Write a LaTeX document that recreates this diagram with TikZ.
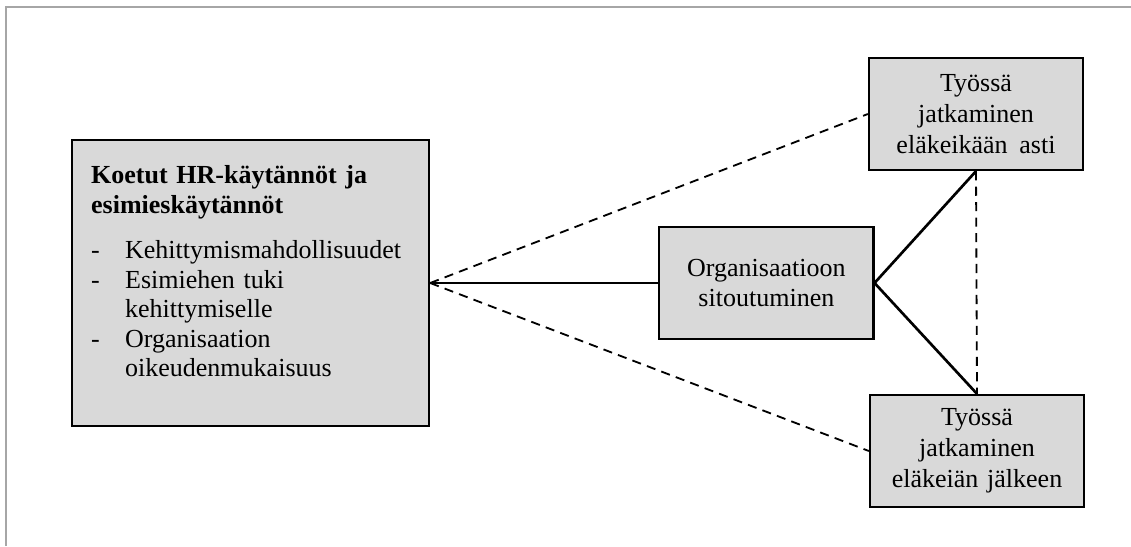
\documentclass[tikz,border=0pt]{standalone}
\usepackage{fontspec}
\setmainfont{Liberation Serif}
\usepackage{tikz}
\usetikzlibrary{positioning}
\definecolor{boxgray}{HTML}{D9D9D9}
\definecolor{framegray}{HTML}{A6A6A6}
\newcommand{\viiva}[1]{\par\hangindent=0.85cm\hangafter=1\noindent\makebox[0.85cm][l]{-}#1}
\tikzset{
	every node/.style={
		font=\fontsize{18.5pt}{22pt}\selectfont
	},
	laatikko/.style={
		shape=rectangle,
		fill=boxgray,
		draw,
		line width=1.6pt,
		minimum width=5.35cm,
		minimum height=2.8cm,
		text width=5cm,
		text centered,
		inner sep=0pt
	},
	hrlaatikko/.style={
		laatikko,
		minimum width=8.925cm,
		minimum height=7.15cm,
		text width=8.5cm
	},
	hrteksti/.style={
		font=\fontsize{18.5pt}{21pt}\selectfont,
		text width=8cm,
		align=left,
		inner sep=0pt,
		anchor=north west
	},
	yhteys/.style={line width=1.9pt},
	katko/.style={line width=1.3pt, dash pattern=on 6.5pt off 4.5pt}
}

\begin{document}
\begin{tikzpicture}[x=0.025cm,y=-0.025cm]
	\useasboundingbox (0,0) rectangle (1131,546);
	\draw[framegray, line width=1.5pt] (6,546) -- (6,7) -- (1131,7);
	
	\node[hrlaatikko]    (hr)  at (250.5,283)   {};
	\node[hrteksti]      (hrlista) at ([xshift=0.5cm,yshift=-0.67cm]hr.north west)
		{{\fontsize{18.5pt}{21pt}\selectfont\textbf{Koetut HR-käytännöt ja\\ esimieskäytännöt}}\\[11pt]
		\viiva{Kehittymismahdollisuudet}
		\viiva{Esimiehen tuki\newline kehittymiselle}
		\viiva{Organisaation\newline oikeudenmukaisuus}\par};
	\node[laatikko]      (org) [right=5.7cm of hr] {Organisaatioon\\ sitoutuminen};
	\node[laatikko]      (asti)   at (976,114)  {Työssä\\ jatkaminen\\ eläkeikään\hspace{0.45em}asti};
	\node[laatikko]      (jalkeen) at (977,451) {Työssä\\ jatkaminen\\ eläkeiän jälkeen};
	
	\draw[yhteys] (hr.east) -- (org.west);
	\draw[katko]  (hr.east) -- (asti.west);
	\draw[katko]  (hr.east) -- (jalkeen.west);
	\draw[yhteys] (asti.south) -- (org.east) -- (jalkeen.north);
	\draw[katko]  (asti.south) -- (jalkeen.north);
\end{tikzpicture}
\end{document}
